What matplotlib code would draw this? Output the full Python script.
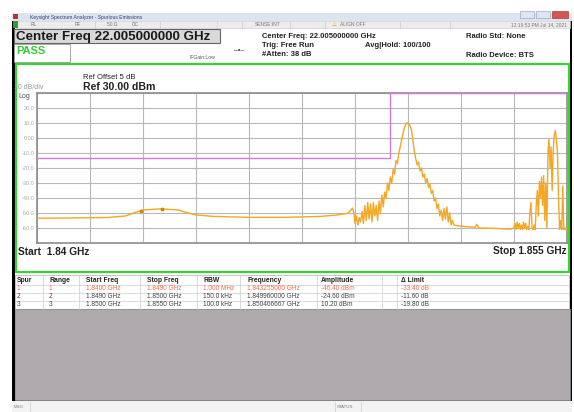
import numpy as np
import matplotlib.pyplot as plt
from matplotlib.patches import Rectangle

plt.rcParams['font.family'] = ['Liberation Sans', 'DejaVu Sans']

# ---- trace data (GHz, dBm) ----
# smooth part left of range 2
seg_a_freq = [1.8400, 1.8410, 1.8420, 1.8425, 1.8428, 1.8430, 1.8433, 1.8435, 1.8437,
              1.8440, 1.8442, 1.8445, 1.8450, 1.8460, 1.8470, 1.8480, 1.8485, 1.8488,
              1.84893, 1.84897]
seg_a_db = [-53.5, -53.3, -53.0, -52.0, -49.5, -48.0, -47.5, -47.3, -47.5,
            -48.0, -49.5, -51.3, -52.3, -52.9, -52.9, -52.3, -51.3, -50.2,
            -46.7, -50.0]

# noisy carrier region, sweep points every 40 kHz from 1.8490 GHz
seg_b_start, seg_b_step = 1.8490, 0.00004
seg_b_db = [-57, -52, -58, -53, -56, -49, -57, -45, -55, -43,
            -54, -44, -56, -43, -52, -45, -55, -42, -50, -38,
            -46, -36, -40, -30, -35, -26, -30, -21, -24, -15,
            -17, -10, -6, -1, 3, 7, 9, 10.2, 9.5, 8,
            5, -2, -9, -14, -18, -16, -22, -20, -26, -24,
            -30, -27, -33, -31, -37, -35, -42, -40, -47, -44,
            -52, -48, -55, -47, -54, -46, -56, -50, -58, -55,
            -58]

# floor between the two signals
seg_c_freq = [1.8519, 1.8521, 1.8524, 1.85245, 1.8525, 1.8530, 1.8534]
seg_c_db = [-58.5, -59, -59.5, -57.5, -60, -60.3, -60.8]

# spikes at the right edge, sweep points every 30 kHz from 1.8535 GHz
seg_d_start, seg_d_step = 1.8535, 0.00003
seg_d_db = [-60, -57, -61, -56, -60, -57, -61, -58, -61, -56,
            -60, -57, -61, -59, -61, -50, -43, -60, -61, -58,
            -61, -45, -35, -52, -29, -40, -26, -45, -25, -55,
            -30, -60, -10, -1, -20, -6, -35, -8, 2, 5,
            -2, -9, -40, -61, -55, -61, -32, -61, -60, -61,
            -60]

marker_freq = [1.84293, 1.84355]
marker_db = [-48.5, -47.5]

# limit line (dBm)
limit_freq = [1.8400, 1.8500, 1.8500, 1.8550]
limit_db = [-13, -13, 30, 30]

ref_level = 30
db_per_div = 10
f_start, f_stop = 1.840, 1.855

# spur table
tbl_header = ['Spur', 'Range', 'Start Freq', 'Stop Freq', 'RBW', 'Frequency', 'Amplitude', '', '\u0394 Limit']
tbl_rows = [
    ['1', '1', '1.8400 GHz', '1.8490 GHz', '1.000 MHz', '1.843255000 GHz', '-46.40 dBm', '', '-33.40 dB'],
    ['2', '2', '1.8490 GHz', '1.8500 GHz', '150.0 kHz', '1.849960000 GHz', '-24.60 dBm', '', '-11.60 dB'],
    ['3', '3', '1.8500 GHz', '1.8550 GHz', '100.0 kHz', '1.850466667 GHz', '10.20 dBm', '', '-19.80 dB'],
]
row_colors = ['#f07050', '#444444', '#444444']

seg_b_freq = seg_b_start + seg_b_step * np.arange(len(seg_b_db))
seg_d_freq = seg_d_start + seg_d_step * np.arange(len(seg_d_db))
trace_f = np.concatenate([seg_a_freq, seg_b_freq, seg_c_freq, seg_d_freq])
trace_db = np.concatenate([seg_a_db, seg_b_db, seg_c_db, seg_d_db])

W, H = 574, 412
fig = plt.figure(figsize=(W / 100, H / 100), dpi=100)
bg = fig.add_axes([0, 0, 1, 1])
bg.set_xlim(0, W)
bg.set_ylim(H, 0)
bg.axis('off')


def box(x, y, w, h, fc='none', ec='none', lw=0.8, z=1):
    bg.add_patch(Rectangle((x, y), w, h, facecolor=fc, edgecolor=ec, linewidth=lw, zorder=z))


def txt(x, y, s, size=5, color='#222222', weight='normal', ha='left', z=5):
    bg.text(x, y, s, fontsize=size, color=color, fontweight=weight, ha=ha, va='center', zorder=z)


# window frame
box(12, 13, 560, 388, fc='black', z=0)
box(15, 14, 555, 386, fc='white', z=0.5)
# title bar
box(12, 13, 560, 8, fc='#dbe4ef', z=1)
txt(30, 17.5, 'Keysight Spectrum Analyzer - Spurious Emissions', size=3.6, color='#2b3f7a')
box(13, 14, 5, 5, fc='#c03030', z=2)
box(520, 11, 14, 7, fc='#dde6f2', ec='#8899bb', lw=0.4, z=2)
box(536, 11, 14, 7, fc='#dde6f2', ec='#8899bb', lw=0.4, z=2)
box(552, 11, 16, 7, fc='#d9534f', ec='#8a3030', lw=0.4, z=2)
# status row
box(15, 21, 555, 7, fc='#ececec', ec='#c8c8c8', lw=0.4, z=1)
box(13, 21, 5, 7, fc='#2f9e2f', z=2)
for sx in [95, 160, 217, 242, 290, 325, 400, 450]:
    bg.plot([sx, sx], [21, 28], color='#c8c8c8', lw=0.4, zorder=2)
for sx, s in [(31, 'RL'), (75, 'RF'), (107, '50 \u03a9'), (132, 'DC'), (255, 'SENSE:INT')]:
    txt(sx, 24.5, s, size=3.5, color='#777777')
txt(332, 24.5, '\u26a0', size=4, color='#d4a000')
txt(340, 24.5, 'ALIGN OFF', size=3.5, color='#777777')
txt(567, 24.5, '12:19:53 PM Jul 14, 2021', size=3.5, color='#777777', ha='right')

# header
box(14, 29, 206, 14, fc='#d9d9d9', ec='#666666', lw=0.8, z=2)
txt(16, 36.5, 'Center Freq 22.005000000 GHz', size=9.6, weight='bold', color='#1a1a1a')
box(14, 44, 56, 18, fc='white', ec='#999999', lw=0.6, z=2)
txt(16, 51, 'PASS', size=8, weight='bold', color='#33cc33')
txt(190, 57, 'IFGain:Low', size=3.6, color='#555555')
txt(234, 50, '\u2013\u2022\u2013', size=5, color='#333333')
txt(262, 36, 'Center Freq: 22.005000000 GHz', size=5.5, weight='bold')
txt(262, 45, 'Trig: Free Run', size=5.5, weight='bold')
txt(262, 54, '#Atten: 38 dB', size=5.5, weight='bold')
txt(365, 45, 'Avg|Hold: 100/100', size=5.5, weight='bold')
txt(466, 36, 'Radio Std: None', size=5.5, weight='bold')
txt(466, 55, 'Radio Device: BTS', size=5.5, weight='bold')

# green measurement frame
box(16, 64, 553, 208, ec='#3ad13a', lw=1.6, z=6)
txt(14, 87, '10 dB/div', size=5, color='#999999')
txt(18, 96, 'Log', size=5, color='#555555')
txt(83, 77, 'Ref Offset 5 dB', size=5.5)
txt(83, 87, 'Ref 30.00 dBm', size=7.6, weight='bold')
txt(18, 251.5, 'Start  1.84 GHz', size=7.3, weight='bold')
txt(567, 251.5, 'Stop 1.855 GHz', size=7.3, weight='bold', ha='right')

# spectrum plot
ax = fig.add_axes([37 / W, 1 - 243 / H, 530 / W, 150 / H])
ax.set_xlim(f_start, f_stop)
ax.set_ylim(ref_level - 10 * db_per_div, ref_level)
ax.set_xticks(np.linspace(f_start, f_stop, 11))
ax.set_xticklabels([])
yt = np.arange(ref_level - 10 * db_per_div, ref_level + 1, db_per_div)
ax.set_yticks(yt)
ylab = []
for v in yt:
    if v in (yt[0], yt[-1]):
        ylab.append('')
    elif v == 0:
        ylab.append('0.00')
    else:
        ylab.append('%.1f' % v)
ax.set_yticklabels(ylab)
ax.tick_params(length=0, labelsize=4, labelcolor='#aaaaaa', pad=2)
ax.grid(True, color='#b8b8b8', lw=0.8)
for sp in ax.spines.values():
    sp.set_color('#8c8c8c')
    sp.set_linewidth(1.2)
ax.plot(limit_freq, limit_db, color='#d77ad7', lw=1.0, zorder=3)
ax.plot(trace_f, trace_db, color='#f5a623', lw=1.0, zorder=4)
ax.plot(marker_freq, marker_db, 'o', color='#d08800', ms=1.8, zorder=5)

# spur table
tx0, tx1 = 15, 569
ty = [275, 285, 293, 301, 309]
box(tx0, ty[0], tx1 - tx0, ty[-1] - ty[0], fc='white', ec='#bbbbbb', lw=0.6, z=2)
for yy in ty[1:-1]:
    bg.plot([tx0, tx1], [yy, yy], color='#cccccc', lw=0.5, zorder=3)
col_sep = [43, 79, 140, 197, 240, 317, 382, 397]
for cx in col_sep:
    bg.plot([cx, cx], [ty[0], ty[-1]], color='#cccccc', lw=0.5, zorder=3)
col_x = [17, 49, 86, 147, 203, 247, 321, 384, 401]
for cx, s in zip(col_x, tbl_header):
    txt(cx, 280.5, s, size=4.9, weight='bold')
for r, (row, c) in enumerate(zip(tbl_rows, row_colors)):
    for cx, s in zip(col_x, row):
        txt(cx, (ty[r + 1] + ty[r + 2]) / 2, s, size=4.7, color=c)

# empty grey area + bottom bar
box(15, 309, 555, 91, fc='#aeaaae', ec='#8f8b8f', lw=0.6, z=2)
box(12, 401, 560, 11, fc='#f3f3f3', z=2)
for sx in [30, 335, 361]:
    bg.plot([sx, sx], [402, 412], color='#cccccc', lw=0.5, zorder=3)
txt(14, 407, 'MSG', size=3.2, color='#777777')
txt(337, 407, 'STATUS', size=3.2, color='#777777')

fig.savefig('out.png', dpi=100)
